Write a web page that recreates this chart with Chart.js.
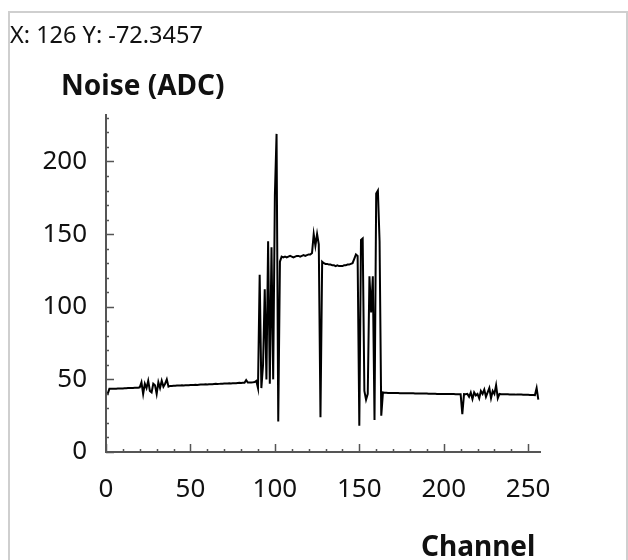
<!DOCTYPE html>
<html>
<head>
<meta charset="utf-8">
<script src="https://cdn.jsdelivr.net/npm/chart.js@4.4.1/dist/chart.umd.min.js"></script>
<style>
  body { margin: 0; background: #fff; }
  #frame { position: absolute; left: 8px; top: 11px; width: 616px; height: 560px;
           border: 2px solid #cfcfcf; border-bottom: none; }
  #wrap { position: absolute; left: 0; top: 0; width: 628px; height: 560px; }
</style>
</head>
<body>
<div id="frame"></div>
<div id="wrap"><canvas id="noiseChart" width="628" height="560"></canvas></div>
<script>
// noise per channel, channels 1..256
const noise = [
  40, 43.5, 43.5, 43.5, 43.6, 43.6, 43.7, 43.7, 43.8, 43.8,
  43.9, 43.9, 44, 44, 44.1, 44.1, 44.2, 44.2, 44.3, 44.5,
  48, 40, 47, 44, 49, 42, 41, 47, 46, 40,
  48, 44, 49, 45, 47, 50, 45, 45.5, 45.5, 45.6,
  45.6, 45.7, 45.7, 45.8, 45.9, 45.8, 45.9, 46, 46, 46.1,
  46.1, 46.2, 46.3, 46.2, 46.3, 46.4, 46.4, 46.5, 46.6, 46.5,
  46.6, 46.7, 46.7, 46.8, 46.9, 46.8, 46.9, 47, 47, 47.1,
  47.1, 47.2, 47.3, 47.2, 47.3, 47.4, 47.4, 47.5, 47.6, 47.5,
  47.6, 47.7, 49.5, 47.8, 47.8, 47.9, 48, 48.2, 49, 44,
  122, 44, 60, 112, 50, 145, 47, 141, 50, 177,
  219, 21, 131, 134.5, 134, 134.5, 134, 134.5, 135, 134.5,
  134, 134.5, 135, 135, 134.5, 135, 135.5, 135, 135.5, 136,
  136, 137, 150, 142, 150, 143, 24, 131, 130, 129.5,
  129.5, 129, 129, 128.5, 128.5, 128, 128.5, 128, 128, 128,
  128.5, 128.5, 129, 129, 129.5, 130, 133, 136, 135, 18,
  146, 147, 42, 36, 40, 121, 96, 121, 22, 178,
  180, 145, 25, 41, 40.8, 40.8, 40.7, 40.7, 40.7, 40.6,
  40.6, 40.6, 40.6, 40.5, 40.5, 40.5, 40.5, 40.4, 40.4, 40.4,
  40.4, 40.4, 40.3, 40.3, 40.3, 40.3, 40.2, 40.2, 40.2, 40.2,
  40.1, 40.1, 40.1, 40.1, 40.1, 40, 40, 40, 40, 40,
  40, 39.9, 39.9, 39.9, 39.9, 39.9, 39.8, 39.8, 39.8, 39.8,
  26, 39.8, 39.7, 40, 38, 41, 36.5, 41, 39, 40,
  37, 42, 40, 43, 38, 41, 44, 37, 42, 40,
  46, 37, 40, 39.8, 39.8, 39.7, 39.7, 39.7, 39.6, 39.6,
  39.6, 39.6, 39.5, 39.5, 39.5, 39.5, 39.4, 39.4, 39.4, 39.4,
  39.3, 39.3, 39.3, 39.2, 44, 36
];
const channels = noise.map((v, i) => i + 1);
const xTicks = [0, 50, 100, 150, 200, 250];
const yTicks = [0, 50, 100, 150, 200];
const cursorText = 'X: 126 Y: -72.3457';
const yTitle = 'Noise (ADC)';
const xTitle = 'Channel';

const FONT = '"Noto Sans", sans-serif';

// inward tick marks + free-floating titles
const decorations = {
  id: 'decorations',
  afterDraw(chart) {
    const { ctx, scales: { x, y } } = chart;
    ctx.save();
    ctx.strokeStyle = '#555';
    ctx.lineWidth = 1.5;
    ctx.beginPath();
    for (let v = 0; v <= 250; v += 10) {
      const px = Math.round(x.getPixelForValue(v)) + 0.5;
      const len = v % 50 === 0 ? 8 : 3;
      ctx.moveTo(px, y.bottom);
      ctx.lineTo(px, y.bottom - len);
    }
    for (let v = 0; v <= 230; v += 10) {
      const py = Math.round(y.getPixelForValue(v)) + 0.5;
      const len = v % 50 === 0 ? 8 : 3;
      ctx.moveTo(x.left, py);
      ctx.lineTo(x.left + len, py);
    }
    ctx.stroke();

    ctx.fillStyle = '#111';
    ctx.textBaseline = 'alphabetic';
    ctx.font = '23.5px ' + FONT;
    ctx.fillText(cursorText, 10, 43);
    ctx.font = 'bold 28px ' + FONT;
    ctx.fillText(yTitle, 61, 95);
    ctx.fillText(xTitle, 421, 556);
    ctx.restore();
  }
};

new Chart(document.getElementById('noiseChart'), {
  type: 'line',
  data: {
    labels: channels,
    datasets: [{
      data: noise,
      borderColor: '#000',
      borderWidth: 2,
      pointRadius: 0,
      tension: 0,
      fill: false
    }]
  },
  options: {
    responsive: false,
    animation: false,
    events: [],
    layout: { padding: { left: 10, right: 88, top: 115, bottom: 48 } },
    plugins: { legend: { display: false }, tooltip: { enabled: false } },
    scales: {
      x: {
        type: 'linear',
        min: 0,
        max: 257,
        afterFit: s => { s.height = 60; },
        afterBuildTicks: s => { s.ticks = xTicks.map(v => ({ value: v })); },
        grid: { display: false },
        border: { display: true, color: '#555', width: 2 },
        ticks: { color: '#111', padding: 14, font: { family: FONT, size: 26 } }
      },
      y: {
        min: 0,
        max: 232,
        afterFit: s => { s.width = 96; },
        afterBuildTicks: s => { s.ticks = yTicks.map(v => ({ value: v })); },
        grid: { display: false },
        border: { display: true, color: '#555', width: 2 },
        ticks: { color: '#111', padding: 11, font: { family: FONT, size: 26 } }
      }
    }
  },
  plugins: [decorations]
});
</script>
</body>
</html>
